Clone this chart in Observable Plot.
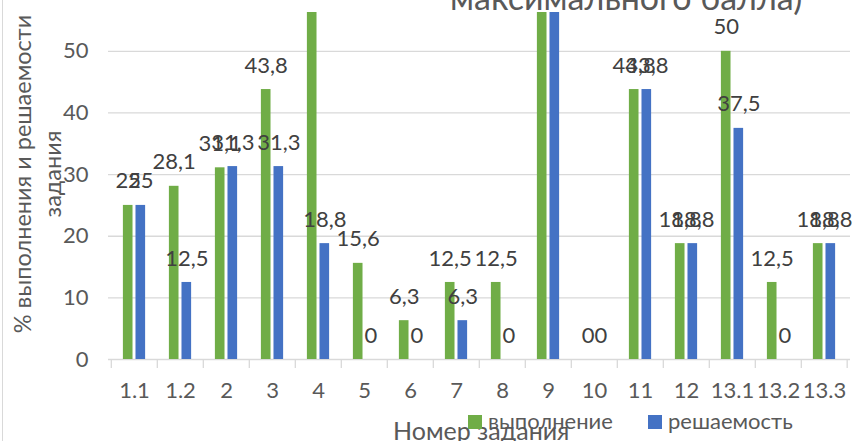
<!DOCTYPE html>
<html><head><meta charset="utf-8">
<script src="https://cdn.jsdelivr.net/npm/d3@7"></script>
<script src="https://cdn.jsdelivr.net/npm/@observablehq/plot@0.6"></script>
<style>
body{margin:0;background:#fff;}
#wrap{position:relative;width:855px;height:441px;overflow:hidden;font-family:Lato,sans-serif;color:#595959;}
#wrap svg{position:absolute;left:0;top:0;}
.abs{position:absolute;white-space:nowrap;}
#border{position:absolute;left:2px;top:0;width:1px;height:441px;background:#d9d9d9;}
#title{left:450px;top:-20px;font-size:34px;line-height:34px;}
#ytitle{left:37px;top:174px;transform:translate(-50%,-50%) rotate(-90deg);text-align:center;font-size:23.5px;line-height:30px;}
#xtitle{left:393px;top:418px;font-size:25px;line-height:25px;}
.leg{top:410px;font-size:22px;line-height:22px;}
.sw{position:absolute;width:14px;height:14px;top:415px;}
</style></head><body><div id="wrap"><div id="border"></div></div>
<script>
const categories = ["1.1","1.2","2","3","4","5","6","7","8","9","10","11","12","13.1","13.2","13.3"];
const vypolnenie = [25, 28.1, 31.1, 43.8, 62.5, 15.6, 6.3, 12.5, 12.5, 62.5, 0, 43.8, 18.8, 50, 12.5, 18.8];
const reshaemost = [25, 12.5, 31.3, 31.3, 18.8, 0, 0, 6.3, 0, 62.5, 0, 43.8, 18.8, 37.5, 0, 18.8];
const seriesNames = ["выполнение", "решаемость"];
const seriesColors = ["#70ad47", "#4472c4"];
const yTicks = [0, 10, 20, 30, 40, 50];
const titleText = "максимального балла)";
const yTitleLines = ["% выполнения и решаемости", "задания"];
const xTitleText = "Номер задания";

const W = 855, H = 441, mL = 108, mR = 5, mT = 12, mB = 82;
const yMax = 56.3;
const bw = (W - mL - mR) / categories.length;
const rowsV = categories.map((c, i) => ({cat: c, value: vypolnenie[i]}));
const rowsR = categories.map((c, i) => ({cat: c, value: reshaemost[i]}));
const fmt = v => String(v).replace(".", ",");
const half = bw / 2;
// labels of bars that run past the top of the visible frame lie outside the picture
const visible = d => d.value < yMax - 3;

const chart = Plot.plot({
  width: W, height: H,
  marginLeft: mL, marginRight: mR, marginTop: mT, marginBottom: mB,
  style: {fontFamily: "Lato, sans-serif", fontSize: "22px", background: "transparent"},
  x: {type: "band", domain: categories, padding: 0},
  y: {domain: [0, yMax]},
  marks: [
    Plot.ruleY(yTicks.filter(t => t > 0), {stroke: "#d9d9d9", strokeWidth: 1.3}),
    Plot.ruleY([0], {stroke: "#d9d9d9", strokeWidth: 1.5}),
    Plot.ruleX(categories, {x: d => d, dx: -half, y1: 0, y2: -1.45, stroke: "#d9d9d9", strokeWidth: 1.3}),
    Plot.ruleX(categories.slice(-1), {x: d => d, dx: half - 0.5, y1: 0, y2: -1.45, stroke: "#d9d9d9", strokeWidth: 1.3}),
    Plot.barY(rowsV, {x: "cat", y: "value", fill: seriesColors[0], insetLeft: half - 11.3, insetRight: half + 1.3, clip: true}),
    Plot.barY(rowsR, {x: "cat", y: "value", fill: seriesColors[1], insetLeft: half + 1.3, insetRight: half - 11.3, clip: true}),
    Plot.text(rowsV.filter(visible), {x: "cat", y: "value", text: d => fmt(d.value), dx: -6.3, dy: -24, fill: "#404040", fontSize: 22, lineAnchor: "middle"}),
    Plot.text(rowsR.filter(visible), {x: "cat", y: "value", text: d => fmt(d.value), dx: 6.3, dy: -24, fill: "#404040", fontSize: 22, lineAnchor: "middle"}),
    Plot.axisY({ticks: yTicks, tickSize: 0, tickPadding: 20, fill: "#595959", fontSize: 22, label: null}),
    Plot.axisX({tickSize: 0, tickPadding: 23, fill: "#595959", fontSize: 22, label: null})
  ]
});
const wrap = document.getElementById("wrap");
wrap.appendChild(chart);

function addDiv(id, cls, text, style) {
  const d = document.createElement("div");
  if (id) d.id = id;
  d.className = cls;
  if (text != null) d.innerHTML = text;
  if (style) Object.assign(d.style, style);
  wrap.appendChild(d);
  return d;
}
addDiv("title", "abs", titleText);
addDiv("ytitle", "abs", yTitleLines.join("<br>"));
addDiv("xtitle", "abs", xTitleText);
const legX = [468, 648];
seriesNames.forEach((n, i) => {
  addDiv(null, "sw", null, {left: legX[i] + "px", background: seriesColors[i]});
  addDiv(null, "abs leg", n, {left: (legX[i] + 20) + "px"});
});
</script>
</body></html>
